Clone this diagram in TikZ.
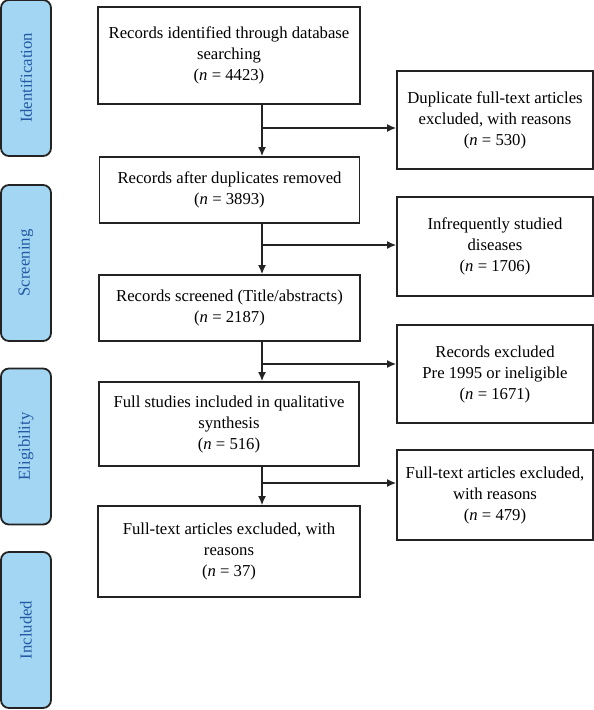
\documentclass[tikz,border=0pt]{standalone}
\usepackage{fontspec}
\setmainfont{Liberation Serif}
\usetikzlibrary{arrows.meta}
\definecolor{phasefill}{RGB}{163,214,242}
\definecolor{phasetext}{RGB}{35,88,165}
\definecolor{edgegray}{RGB}{35,35,35}
\begin{document}
\begin{tikzpicture}[x=1pt,y=-1pt,
  txt/.style={font=\fontsize{16.7}{21}\selectfont},
  box/.style={txt, draw=edgegray, line width=1.8pt, align=center, inner sep=0pt},
  phase/.style={txt, draw=edgegray, line width=1.8pt, fill=phasefill, text=phasetext,
    rounded corners=8pt, rotate=90, minimum width=156pt, minimum height=50pt, inner sep=0pt},
  conn/.style={line width=1.3pt, draw=edgegray},
  arr/.style={conn, -{Latex[length=9pt,width=8pt]}}
]
\useasboundingbox (0,0) rectangle (594,710);

% phase bars
\node[phase] (pid) at (26,78) {Identification};
\node[phase] (psc) at (26,263) {Screening};
\node[phase] (pel) at (26,446.5) {Eligibility};
\node[phase] (pin) at (26,630) {Included};

% main boxes
\node[box, minimum width=262pt, minimum height=97pt] (b1) at (229,55.5)
  {Records identified through database\\searching\\(\textit{n} = 4423)};
\node[box, minimum width=260pt, minimum height=66pt] (b2) at (229.5,190)
  {Records after duplicates removed\\(\textit{n} = 3893)};
\node[box, minimum width=261pt, minimum height=66pt] (b3) at (229.5,308)
  {Records screened (Title/abstracts)\\(\textit{n} = 2187)};
\node[box, minimum width=260pt, minimum height=84pt] (b4) at (229,424)
  {Full studies included in qualitative\\synthesis\\(\textit{n} = 516)};
\node[box, minimum width=262pt, minimum height=91pt] (b5) at (229,551.5)
  {Full-text articles excluded, with\\reasons\\(\textit{n} = 37)};

% side boxes
\node[box, minimum width=196pt, minimum height=98pt] (r1) at (495,120)
  {Duplicate full-text articles\\excluded, with reasons\\(\textit{n} = 530)};
\node[box, minimum width=196pt, minimum height=99pt] (r2) at (495,246.5)
  {Infrequently studied\\diseases\\(\textit{n} = 1706)};
\node[box, minimum width=196pt, minimum height=98pt] (r3) at (495,374)
  {Records excluded\\Pre 1995 or ineligible\\(\textit{n} = 1671)};
\node[box, minimum width=196pt, minimum height=90pt] (r4) at (495,495)
  {Full-text articles excluded,\\with reasons\\(\textit{n} = 479)};

% junctions
\coordinate (j1) at (262,128);
\coordinate (j2) at (262,245);
\coordinate (j3) at (262,364);
\coordinate (j4) at (262,483);

% vertical arrows
\draw[arr] (b1.south -| j1) -- (b2.north -| j1);
\draw[arr] (b2.south -| j2) -- (b3.north -| j2);
\draw[arr] (b3.south -| j3) -- (b4.north -| j3);
\draw[arr] (b4.south -| j4) -- (b5.north -| j4);

% side arrows
\draw[arr] (j1) -- (j1 -| r1.west);
\draw[arr] (j2) -- (j2 -| r2.west);
\draw[arr] (j3) -- (j3 -| r3.west);
\draw[arr] (j4) -- (j4 -| r4.west);
\end{tikzpicture}
\end{document}
